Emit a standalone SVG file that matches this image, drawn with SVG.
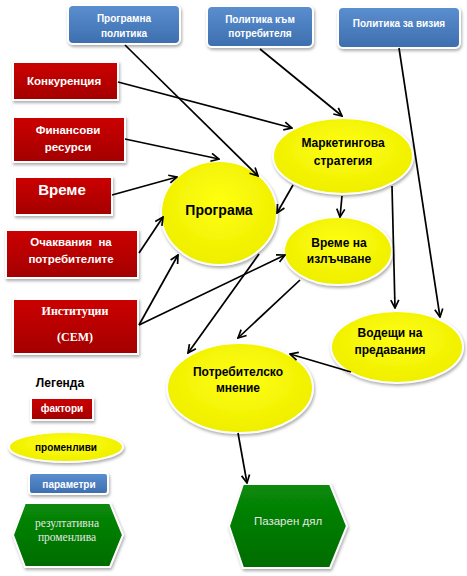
<svg xmlns="http://www.w3.org/2000/svg" width="467" height="576" viewBox="0 0 467 576">
<defs>
<linearGradient id="gr" x1="0" y1="0" x2="0" y2="1"><stop offset="0" stop-color="#cc0000"/><stop offset="1" stop-color="#a30000"/></linearGradient>
<linearGradient id="gb" x1="0" y1="0" x2="0" y2="1"><stop offset="0" stop-color="#5b8fd0"/><stop offset="1" stop-color="#3d6eae"/></linearGradient>
<radialGradient id="gy" cx="0.5" cy="0.4" r="0.6"><stop offset="0" stop-color="#ffff10"/><stop offset="1" stop-color="#eeee00"/></radialGradient>
<linearGradient id="gg" x1="0" y1="0" x2="0" y2="1"><stop offset="0" stop-color="#088a08"/><stop offset="1" stop-color="#006c00"/></linearGradient>
<filter id="sh" x="-20%" y="-20%" width="140%" height="150%"><feDropShadow dx="1" dy="2" stdDeviation="1.8" flood-color="#777" flood-opacity="0.6"/></filter>
<marker id="a" viewBox="0 0 10 10" refX="9" refY="5" markerWidth="10" markerHeight="10" markerUnits="userSpaceOnUse" orient="auto"><path d="M1,1 L9,5 L1,9" fill="none" stroke="#000" stroke-width="1.7"/></marker>
</defs>
<style>
.r{fill:url(#gr);stroke:#fff;stroke-width:2;filter:url(#sh)}
.b{fill:url(#gb);stroke:#fff;stroke-width:2;filter:url(#sh)}
.y{fill:url(#gy);stroke:#fff;stroke-width:2;filter:url(#sh)}
.g{fill:url(#gg);stroke:#fff;stroke-width:2;filter:url(#sh)}
text{font-family:"Liberation Sans","DejaVu Sans",sans-serif;font-weight:bold;text-anchor:middle}
.tw{fill:#fff;font-size:11.5px}
.tb{fill:#fff;font-size:10px}
.tk{fill:#000;font-size:12px}
.ts{font-family:"Liberation Serif","DejaVu Serif",serif;fill:#fff;font-size:12px}
.c line{stroke:#000;stroke-width:1.7;marker-end:url(#a)}
</style>

<g id="n-programna-politika"><rect class="b" x="68" y="5" width="112" height="39" rx="5"/><text class="tb" x="124" y="22">Програмна</text><text class="tb" x="124" y="37">политика</text></g>
<g id="n-politika-kam-potrebitelya"><rect class="b" x="207" y="6" width="106" height="41" rx="5"/><text class="tb" x="260" y="23">Политика към</text><text class="tb" x="260" y="37">потребителя</text></g>
<g id="n-politika-za-viziya"><rect class="b" x="338" y="7" width="122" height="41" rx="5"/><text class="tb" x="399" y="27">Политика за визия</text></g>

<g id="n-konkurentsiya"><rect class="r" x="13" y="62" width="105" height="38"/><text class="tw" x="64" y="85">Конкуренция</text></g>
<g id="n-finansovi-resursi"><rect class="r" x="13" y="117" width="112" height="45"/><text class="tw" x="68" y="134">Финансови</text><text class="tw" x="68" y="151">ресурси</text></g>
<g id="n-vreme"><rect class="r" x="15" y="177" width="97" height="38"/><text class="tw" x="62" y="195" style="font-size:15px">Време</text></g>
<g id="n-ochakvaniya"><rect class="r" x="6" y="230" width="132" height="48"/><text class="tw" x="71" y="246" xml:space="preserve">Очаквания  на</text><text class="tw" x="71" y="263">потребителите</text></g>
<g id="n-institutsii"><rect class="r" x="13" y="299" width="125" height="55"/><text class="ts" x="75" y="315">Институции</text><text class="ts" x="75" y="341">(CEM)</text></g>

<g id="n-programa"><ellipse class="y" cx="219" cy="213" rx="58" ry="52"/><text class="tk" x="219" y="215" style="font-size:14px">Програма</text></g>
<g id="n-marketingova-strategiya"><ellipse class="y" cx="343" cy="156" rx="70" ry="38"/><text class="tk" x="343" y="147">Маркетингова</text><text class="tk" x="343" y="165">стратегия</text></g>
<g id="n-vreme-na-izlachvane"><ellipse class="y" cx="338" cy="251" rx="54" ry="34"/><text class="tk" x="339" y="247">Време на</text><text class="tk" x="339" y="263">излъчване</text></g>
<g id="n-vodeshti-na-predavaniya"><ellipse class="y" cx="397" cy="347" rx="66" ry="36"/><text class="tk" x="390" y="337">Водещи на</text><text class="tk" x="390" y="354">предавания</text></g>
<g id="n-potrebitelsko-mnenie"><ellipse class="y" cx="240" cy="388" rx="73" ry="45"/><text class="tk" x="238" y="376">Потребителско</text><text class="tk" x="238" y="392">мнение</text></g>
<g id="n-pazaren-dyal"><polygon class="g" points="243,484 330,484 347,526 330,568 243,568 229,526"/><text x="288" y="525" style="fill:#e6e6e6;font-size:11.5px;font-weight:normal">Пазарен дял</text></g>

<g id="legend">
<text x="60" y="387" style="fill:#000;font-size:12px">Легенда</text>
<rect class="r" x="31" y="398" width="62" height="22"/><text class="tw" x="62" y="412" style="font-size:10px">фактори</text>
<ellipse class="y" cx="66" cy="447" rx="57" ry="15"/><text class="tk" x="66" y="451" style="font-size:10px">променливи</text>
<rect class="b" x="29" y="473" width="79" height="21" rx="3"/><text class="tb" x="69" y="488">параметри</text>
<polygon class="g" points="25,503 110,503 123,535 110,567 25,567 13,535"/><text x="67" y="527" style="font-family:'Liberation Serif',serif;fill:#e6e6e6;font-size:11.5px;font-weight:normal">резултативна</text><text x="67" y="541" style="font-family:'Liberation Serif',serif;fill:#e6e6e6;font-size:11.5px;font-weight:normal">променлива</text>
</g>

<g class="c" id="connectors">
<line x1="125" y1="45" x2="258" y2="176"/>
<line x1="118" y1="82" x2="292" y2="128"/>
<line x1="260" y1="49" x2="342" y2="116"/>
<line x1="399" y1="48" x2="440" y2="317"/>
<line x1="125" y1="139" x2="219" y2="159"/>
<line x1="112" y1="195" x2="177" y2="177"/>
<line x1="139" y1="253" x2="163" y2="217"/>
<line x1="139" y1="325" x2="178" y2="255"/>
<line x1="139" y1="325" x2="285" y2="255"/>
<line x1="293" y1="185" x2="277" y2="213"/>
<line x1="342" y1="196" x2="340" y2="217"/>
<line x1="392" y1="186" x2="395" y2="308"/>
<line x1="259" y1="254" x2="188" y2="353"/>
<line x1="300" y1="280" x2="238" y2="338"/>
<line x1="351" y1="372" x2="290" y2="354"/>
<line x1="238" y1="433" x2="247" y2="483"/>
</g>
</svg>
